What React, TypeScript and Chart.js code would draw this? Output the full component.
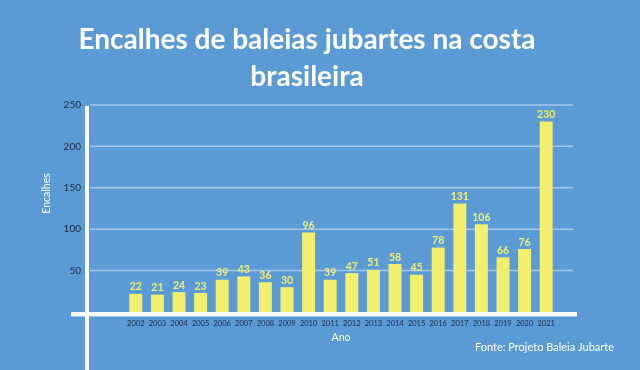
import { useEffect, useRef } from 'react';
import { Chart, registerables } from 'chart.js';

Chart.register(...registerables);

const years = ['2002', '2003', '2004', '2005', '2006', '2007', '2008', '2009', '2010', '2011', '2012', '2013', '2014', '2015', '2016', '2017', '2018', '2019', '2020', '2021'];
const strandings = [22, 21, 24, 23, 39, 43, 36, 30, 96, 39, 47, 51, 58, 45, 78, 131, 106, 66, 76, 230];
const yTickValues = [50, 100, 150, 200, 250];
const titleLines = ['Encalhes de baleias jubartes na costa', 'brasileira'];
const yTitle = 'Encalhes';
const xTitle = 'Ano';
const sourceText = 'Fonte: Projeto Baleia Jubarte';

const BG = '#5B9BD5';
const BAR = '#F2EE6E';
const DARK = '#1B2A44';
const FONT = 'Lato, "Open Sans", sans-serif';

const decorPlugin = {
  id: 'decor',
  beforeDraw(chart: any) {
    const { ctx, width, height } = chart;
    ctx.save();
    ctx.fillStyle = BG;
    ctx.fillRect(0, 0, width, height);
    ctx.restore();
  },
  beforeDatasetsDraw(chart: any) {
    const { ctx, chartArea } = chart;
    const y = chart.scales.y;
    ctx.save();
    ctx.strokeStyle = 'rgba(255,255,255,0.45)';
    ctx.lineWidth = 1.5;
    for (const v of yTickValues) {
      const py = y.getPixelForValue(v);
      ctx.beginPath();
      ctx.moveTo(chartArea.left - 35, py);
      ctx.lineTo(chartArea.right + 16, py);
      ctx.stroke();
    }
    // y-axis title
    ctx.translate(chartArea.left - 78, (chartArea.top + chartArea.bottom) / 2 - 15);
    ctx.rotate(-Math.PI / 2);
    ctx.fillStyle = '#FFFFFF';
    ctx.font = `10.5px ${FONT}`;
    ctx.textAlign = 'center';
    ctx.textBaseline = 'middle';
    ctx.fillText(yTitle, 0, 0);
    ctx.restore();
  },
  afterDatasetsDraw(chart: any) {
    const { ctx, chartArea, height } = chart;
    const y = chart.scales.y;
    const zero = y.getPixelForValue(0);
    ctx.save();
    ctx.fillStyle = '#FFFFFF';
    // vertical axis line
    ctx.fillRect(chartArea.left - 40, chartArea.top + 1, 4, height - chartArea.top);
    // horizontal axis line
    ctx.fillRect(chartArea.left - 54, zero, chartArea.right - chartArea.left + 74, 4.4);
    // value labels
    const meta = chart.getDatasetMeta(0);
    ctx.fillStyle = BAR;
    ctx.font = `bold 10.5px ${FONT}`;
    ctx.textAlign = 'center';
    ctx.textBaseline = 'bottom';
    meta.data.forEach((bar: any, i: number) => {
      ctx.fillText(String(strandings[i]), bar.x, bar.y - 1.5);
    });
    ctx.restore();
  },
};

export default function App() {
  const ref = useRef<HTMLCanvasElement | null>(null);
  useEffect(() => {
    if (!ref.current) return;
    const chart = new Chart(ref.current, {
      type: 'bar',
      data: {
        labels: years,
        datasets: [
          {
            data: strandings,
            backgroundColor: BAR,
            borderWidth: 0,
            barPercentage: 0.6,
            categoryPercentage: 1,
          },
        ],
      },
      options: {
        animation: false,
        responsive: false,
        devicePixelRatio: 1,
        layout: { padding: { left: 0, right: 26, top: 0, bottom: 15.8 } },
        plugins: {
          legend: { display: false },
          tooltip: { enabled: false },
          title: {
            display: true,
            text: titleLines,
            color: '#FFFFFF',
            font: { family: FONT, size: 28, weight: 'bold', lineHeight: 1.32 },
            padding: { top: 21.5, bottom: 9.5 },
          },
          subtitle: {
            display: true,
            position: 'bottom',
            align: 'end',
            text: sourceText,
            color: '#FFFFFF',
            font: { family: FONT, size: 11, lineHeight: 1.2 },
            padding: { top: 0, bottom: 0 },
          },
        },
        scales: {
          x: {
            grid: { display: false, drawTicks: false },
            border: { display: false },
            ticks: { color: DARK, font: { family: FONT, size: 7.5 }, padding: 7, maxRotation: 0, autoSkip: false },
            title: { display: true, text: xTitle, color: '#FFFFFF', font: { family: FONT, size: 10.5, lineHeight: 1.2 }, padding: { top: 0, bottom: -3.3 } },
            afterFit: (s: any) => { s.height = 29; },
          },
          y: {
            min: 0,
            max: 250,
            afterBuildTicks: (s: any) => { s.ticks = yTickValues.map((v) => ({ value: v })); },
            grid: { display: false, drawTicks: false },
            border: { display: false },
            ticks: { color: DARK, font: { family: FONT, size: 10 }, padding: 44 },
            title: { display: false },
            afterFit: (s: any) => { s.width = 125; },
          },
          y2: {
            type: 'linear',
            position: 'right',
            display: true,
            grid: { display: false, drawTicks: false },
            border: { display: false },
            ticks: { display: false },
            afterFit: (s: any) => { s.width = 57; },
          },
        },
      },
      plugins: [decorPlugin],
    } as any);
    return () => chart.destroy();
  }, []);
  return (
    <div style={{ position: 'fixed', left: 0, top: 0, width: 640, height: 370, background: BG }}>
      <canvas ref={ref} width={640} height={370} style={{ display: 'block', width: 640, height: 370 }} />
    </div>
  );
}
